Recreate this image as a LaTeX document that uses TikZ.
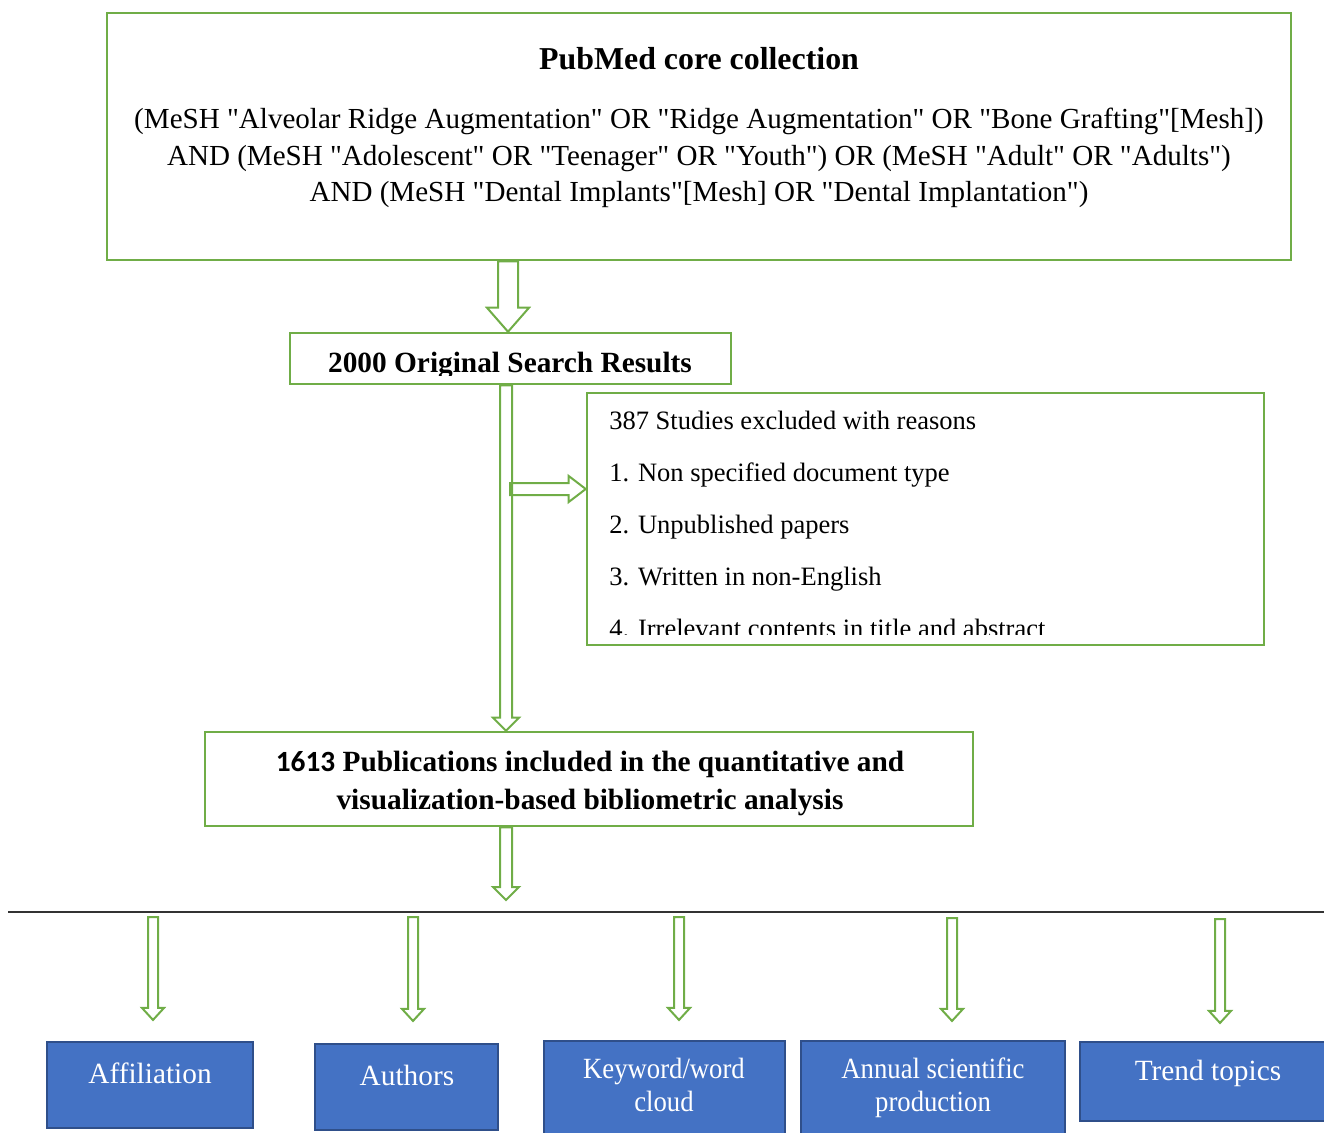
\documentclass[tikz,border=0pt]{standalone}
\usepackage{fontspec}
\setmainfont{Liberation Serif}[Ligatures=TeXOff]
\newfontfamily\carlito{Carlito}
\newfontfamily\condser{Liberation Serif}[FakeStretch=0.91,Ligatures=TeXOff]
\usetikzlibrary{calc,fit}
\definecolor{grn}{HTML}{70AD47}
\definecolor{blu}{HTML}{4472C4}
\definecolor{bluedge}{HTML}{2F4F8A}
\newcommand\hdown[5]{%
 \draw[harrow] let \p1=(#1), \p2=(#2) in
  (\x1-#3*0.75pt,\y1) -- (\x1-#3*0.75pt,\y2+#5*0.75pt) -- (\x1-#4*0.75pt,\y2+#5*0.75pt) -- (\x1,\y2)
  -- (\x1+#4*0.75pt,\y2+#5*0.75pt) -- (\x1+#3*0.75pt,\y2+#5*0.75pt) -- (\x1+#3*0.75pt,\y1) -- cycle;}
\newcommand\hright[5]{%
 \draw[harrow] let \p1=(#1), \p2=(#2) in
  (\x1,\y1+#3*0.75pt) -- (\x2-#5*0.75pt,\y1+#3*0.75pt) -- (\x2-#5*0.75pt,\y1+#4*0.75pt) -- (\x2,\y1)
  -- (\x2-#5*0.75pt,\y1-#4*0.75pt) -- (\x2-#5*0.75pt,\y1-#3*0.75pt) -- (\x1,\y1-#3*0.75pt) -- cycle;}
\tikzset{
  gbox/.style={draw=grn, line width=1.9pt, inner sep=0pt, fill=none},
  bbox/.style={draw=bluedge, line width=1.6pt, fill=blu, inner sep=0pt},
  harrow/.style={draw=grn, line width=1.5pt, line join=miter},
  txt/.style={inner sep=0pt, anchor=base, font=\fontsize{21.8pt}{26pt}\selectfont},
  btxt/.style={txt, font=\fontsize{22pt}{26pt}\selectfont\bfseries},
  wtxt/.style={txt, text=white, font=\fontsize{22pt}{26pt}\selectfont},
  wctxt/.style={txt, text=white, font=\fontsize{22pt}{26pt}\condser},
  etxt/.style={inner sep=0pt, anchor=base west, font=\fontsize{19.9pt}{23pt}\selectfont},
}
\begin{document}
\begin{tikzpicture}[x=0.75pt,y=-0.75pt]
\useasboundingbox (0,0) rectangle (1324,1132);
% boxes
\node[gbox, fit={(107,13) (1291,260)}] (top) {};
\node[gbox, fit={(290,333) (731,384)}] (res) {};
\node[gbox, fit={(587,393) (1264,645)}] (excl) {};
\node[gbox, fit={(205,732) (973,826)}] (pub) {};
% top text
\node[btxt, font=\fontsize{23.9pt}{27pt}\selectfont\bfseries] (ttl) at (699,69) {PubMed core collection};
\node[txt] (q1) at (699,128) {(MeSH "Alveolar Ridge Augmentation" OR "Ridge Augmentation" OR "Bone Grafting"[Mesh])};
\node[txt] (q2) at (699,165) {AND (MeSH "Adolescent" OR "Teenager" OR "Youth") OR (MeSH "Adult" OR "Adults")};
\node[txt] (q3) at (699,201) {AND (MeSH "Dental Implants"[Mesh] OR "Dental Implantation")};
% 2000 text clipped
\begin{scope}
\clip (292,335) rectangle (729,375);
\node[btxt] (rest) at (510,372) {2000 Original Search Results};
\end{scope}
% excluded text clipped
\begin{scope}
\clip (589,395) rectangle (1262,634);
\node[etxt] (e0) at (609,429) {387 Studies excluded with reasons};
\node[etxt] (e1) at (609,481) {1. Non specified document type};
\node[etxt] (e2) at (609,533) {2. Unpublished papers};
\node[etxt] (e3) at (609,585) {3. Written in non-English};
\node[etxt] (e4) at (609,637) {4. Irrelevant contents in title and abstract};
\end{scope}
% 1613 text
\node[btxt] (p1) at (590,771) {{\carlito 1613} Publications included in the quantitative and};
\node[btxt] (p2) at (590,809) {visualization-based bibliometric analysis};
% horizontal line
\coordinate (hl) at (8,912);
\coordinate (hr) at (1324,912);
\draw[line width=1pt, black!80] (hl) -- (hr);
% arrow x coordinates
\coordinate (c1) at (508,0);
\coordinate (c2) at (506,0);
\coordinate (t3) at (506,900);
\hdown{top.south -| c1}{res.north -| c1}{10}{21}{24}
\hright{$(excl.west -| c2)+(4,-30)$}{$(excl.west)+(0,-30)$}{6}{13}{17}
\hdown{res.south -| c2}{pub.north -| c2}{6}{13}{13}
\hdown{pub.south -| c2}{t3}{6}{13}{13}
% bottom boxes
\node[bbox, fit={(47,1042) (253,1128)}] (b1) {};
\node[bbox, fit={(315,1044) (498,1130)}] (b2) {};
\node[bbox, fit={(544,1041) (785,1145)}] (b3) {};
\node[bbox, fit={(801,1041) (1065,1145)}] (b4) {};
\node[bbox, fit={(1080,1042) (1335,1121)}] (b5) {};
\node[wtxt] (l1) at (150,1083) {Affiliation};
\node[wtxt] (l2) at (407,1085) {Authors};
\node[wctxt] (l3a) at (664,1078) {Keyword/word};
\node[wctxt] (l3b) at (664,1111) {cloud};
\node[wctxt] (l4a) at (933,1078) {Annual scientific};
\node[wctxt] (l4b) at (933,1111) {production};
\node[wtxt] (l5) at (1208,1080) {Trend topics};
% bottom arrows
\coordinate (s1) at (153,917);
\coordinate (s2) at (413,917);
\coordinate (s3) at (679,917);
\coordinate (s4) at (952,918);
\coordinate (s5) at (1220,919);
\hdown{s1}{$(b1.north -| s1)+(0,-21)$}{5}{11}{12}
\hdown{s2}{$(b2.north -| s2)+(0,-22)$}{5}{11}{12}
\hdown{s3}{$(b3.north -| s3)+(0,-20)$}{5}{11}{12}
\hdown{s4}{$(b4.north -| s4)+(0,-19)$}{5}{11}{12}
\hdown{s5}{$(b5.north -| s5)+(0,-18)$}{5}{11}{12}
\end{tikzpicture}
\end{document}
